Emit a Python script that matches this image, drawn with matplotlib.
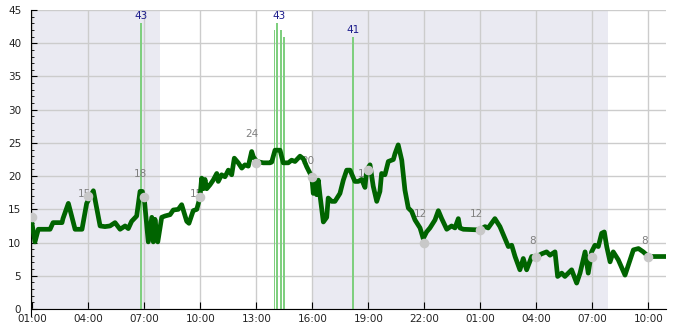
import matplotlib
matplotlib.use('Agg')
import matplotlib.pyplot as plt
import matplotlib.dates as mdates
from datetime import datetime, timedelta

start = datetime(2024, 1, 1, 1, 0)

# main series: hours after 01:00, value
line_hours = [-0.05, 0.14, 0.32, 0.95, 1.11, 1.59, 1.64, 1.93, 2.29, 2.66, 2.91, 3.27,
              3.63, 3.89, 4.16, 4.43, 4.70, 4.97, 5.14, 5.32, 5.59, 5.77, 5.89, 6.00,
              6.21, 6.40, 6.48, 6.57, 6.72, 6.93, 7.11, 7.38, 7.55, 7.82, 8.00, 8.27,
              8.39, 8.62, 8.81, 8.98, 9.07, 9.16, 9.25, 9.34, 9.52, 9.69, 9.88, 9.96,
              10.14, 10.32, 10.50, 10.68, 10.82, 11.03, 11.22, 11.39, 11.57, 11.75, 11.84,
              12.02, 12.37, 12.73, 12.82, 13.00, 13.27, 13.44, 13.71, 13.89, 14.07, 14.34,
              14.52, 14.70, 14.97, 15.05, 15.14, 15.23, 15.32, 15.41, 15.59, 15.77, 15.85,
              16.04, 16.21, 16.48, 16.66, 16.84, 17.02, 17.28, 17.46, 17.64, 17.82, 17.91,
              18.09, 18.26, 18.45, 18.62, 18.71, 18.89, 19.07, 19.34, 19.43, 19.60, 19.79,
              19.96, 20.14, 20.32, 20.50, 20.77, 20.94, 21.12, 21.30, 21.57, 21.75, 21.93,
              22.20, 22.46, 22.64, 22.82, 22.91, 23.09, 23.98, 24.25, 24.42, 24.78, 25.05,
              25.32, 25.50, 25.68, 25.86, 26.12, 26.30, 26.48, 26.75, 27.02, 27.28, 27.55,
              27.73, 28.00, 28.14, 28.36, 28.53, 28.89, 29.16, 29.34, 29.61, 29.78, 29.96,
              30.14, 30.32, 30.50, 30.64, 30.77, 30.95, 31.12, 31.39, 31.75, 32.02, 32.20,
              32.47, 32.73, 33.00, 33.27, 33.89]
line_values = [13.4, 10.1, 12.0, 12.0, 13.0, 13.0, 13.6, 15.9, 12.0, 12.0, 15.9, 17.8,
               12.5, 12.4, 12.5, 13.0, 12.0, 12.5, 12.1, 13.2, 14.0, 17.7, 17.7, 16.5,
               10.1, 13.8, 10.1, 13.5, 10.1, 13.8, 14.0, 14.2, 14.9, 15.0, 15.7, 13.2,
               12.9, 14.8, 15.0, 16.8, 19.7, 18.1, 19.5, 18.1, 18.7, 19.4, 20.4, 19.2,
               20.2, 19.9, 20.9, 20.2, 22.7, 22.0, 21.2, 21.7, 21.5, 23.7, 22.9,
               22.2, 22.0, 22.0, 22.1, 23.9, 23.9, 22.0, 22.0, 22.4, 22.2, 23.0,
               22.6, 21.4, 19.9, 17.4, 19.4, 17.2, 19.4, 17.1, 13.1, 13.8, 16.7,
               16.2, 16.2, 17.4, 19.4, 20.9, 20.9, 19.2, 19.2, 19.5, 18.3, 20.9,
               21.7, 18.5, 16.2, 17.7, 20.4, 20.2, 22.2, 22.5, 23.4, 24.7, 22.4,
               17.9, 15.2, 14.7, 13.4, 12.2, 10.6, 11.6, 12.2, 13.4, 14.8, 13.6,
               12.0, 12.5, 12.2, 13.6, 12.2, 12.0, 11.9, 12.4, 12.2, 13.6, 12.4,
               10.6, 9.4, 9.6, 7.9, 5.9, 7.6, 5.9, 7.9, 7.9, 8.3, 8.6,
               8.1, 8.6, 4.9, 5.4, 4.9, 5.9, 3.9, 5.4, 8.6, 5.4, 8.6,
               9.6, 9.4, 11.4, 11.6, 9.4, 7.1, 8.6, 7.4, 5.1, 7.4, 8.9,
               9.1, 8.6, 7.9, 7.9, 7.9]

# bars
bar_hours = [5.83, 12.97, 13.13, 13.30, 13.47, 17.17]
bar_values = [43, 42, 43, 42, 41, 41]
bar_label_hours = [5.83, 13.2, 17.17]
bar_label_values = [43, 43, 41]

# grey points every 3 hours
point_hours = [0, 3, 6, 9, 12, 15, 18, 21, 24, 27, 30, 33]
point_values = [13.8, 17.0, 16.9, 16.9, 22.0, 19.9, 20.9, 9.9, 11.9, 7.8, 7.8, 7.8]
point_labels = [None, 15, 18, 15, 24, 20, 18, 12, 12, 8, 5, 8]

# shaded periods (hours after 01:00)
shade_spans = [(-1, 6.83), (15, 30.83)]


def t(h):
    return start + timedelta(hours=h)


fig = plt.figure(figsize=(6.85, 3.3), dpi=100)
ax = fig.add_axes([0.0453, 0.0636, 0.9268, 0.9061])

for a, b in shade_spans:
    ax.axvspan(t(a), t(b), color='#eaeaf2', lw=0, zorder=0.3)

ax.bar([t(h) for h in bar_hours], bar_values, width=6 / 1440, color='#7fcf7f', zorder=2)
for h, v in zip(bar_label_hours, bar_label_values):
    ax.text(t(h), v + 0.3, str(v), ha='center', va='bottom', fontsize=7.5, color='#1c1c8c', zorder=5)

for h, lab in zip(point_hours, point_labels):
    if lab is not None:
        ax.text(t(h - 0.22), lab + 2.3, str(lab), ha='center', va='center', fontsize=7.5,
                color='#808080', zorder=3)

ax.plot([t(h) for h in line_hours], line_values, color='#006400', lw=3.4, zorder=4)
ax.scatter([t(h) for h in point_hours], point_values, s=35, color='#c8c8c8', zorder=6)

ax.set_xlim(t(-0.07), t(33.94))
ax.set_ylim(0, 45)
ax.set_yticks(range(0, 46, 5))
ax.yaxis.set_minor_locator(matplotlib.ticker.MultipleLocator(1))
ax.xaxis.set_major_locator(mdates.HourLocator(byhour=range(1, 24, 3)))
ax.xaxis.set_major_formatter(mdates.DateFormatter('%H:%M'))

ax.grid(True, color='#cccccc', lw=1, zorder=0.5)
ax.set_axisbelow(True)
ax.tick_params(axis='both', direction='in', labelsize=7.5, labelcolor='#222222')
ax.tick_params(axis='x', length=5, pad=3.5)
ax.tick_params(axis='y', which='major', length=4, pad=7)
ax.tick_params(axis='y', which='minor', length=2.5, direction='in')
for s in ['top', 'right']:
    ax.spines[s].set_visible(False)
ax.spines['left'].set_bounds(-1, 45)

fig.savefig('out.png', dpi=100)
